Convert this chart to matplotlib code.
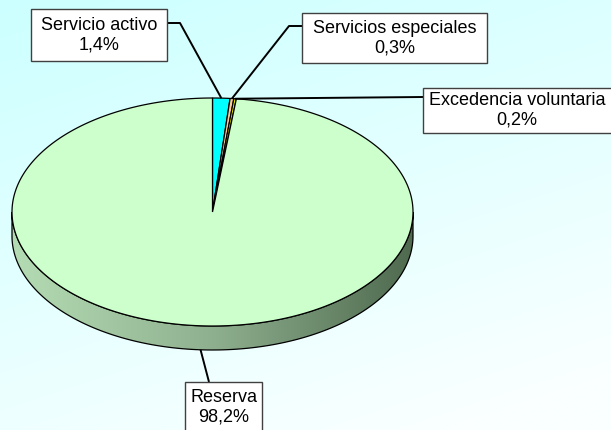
import numpy as np
import matplotlib
matplotlib.use("Agg")
import matplotlib.pyplot as plt
from matplotlib.patches import Polygon, Rectangle

# Data
categories = ["Servicio activo", "Servicios especiales", "Excedencia voluntaria", "Reserva"]
values = [1.4, 0.3, 0.2, 98.2]
labels = ["1,4%", "0,3%", "0,2%", "98,2%"]
colors = ["#00ffff", "#ffcc99", "#e6e600", "#ccffcc"]

W, H = 611, 430
plt.rcParams["font.family"] = ["Liberation Sans", "DejaVu Sans"]

fig = plt.figure(figsize=(W / 100, H / 100), dpi=100)
ax = fig.add_axes([0, 0, 1, 1])
ax.set_xlim(0, W)
ax.set_ylim(H, 0)
ax.axis("off")

# Background gradient (light cyan to near white)
yy, xx = np.mgrid[0:1:200j, 0:1:200j]
t = np.clip(0.75 * yy + 0.35 * xx, 0, 1)
c0 = np.array([204, 255, 255]) / 255
c1 = np.array([250, 255, 255]) / 255
bg = c0 + (c1 - c0) * t[..., None]
ax.imshow(bg, extent=(0, W, H, 0), aspect="auto", zorder=0)

# Pie geometry (ellipse in pixel coords)
cx, cy, rx, ry, depth = 212.5, 212, 200.5, 114, 24


def pt(f, dz=0):
    a = 2 * np.pi * f
    return cx + rx * np.sin(a), cy - ry * np.cos(a) + dz


total = sum(values)
fracs = np.cumsum([0] + values) / total

# Side wall (front half), gradient light-to-dark green
f_side = np.linspace(0.25, 0.75, 200)
top = np.array([pt(f) for f in f_side])
bot = np.array([pt(f, depth) for f in f_side[::-1]])
side_xy = np.vstack([top, bot])
side = Polygon(side_xy, closed=True, facecolor="none", edgecolor="black", lw=0.9, zorder=3)
ax.add_patch(side)
grad = np.linspace(0, 1, 256)[None, :]
side_cmap = matplotlib.colors.LinearSegmentedColormap.from_list(
    "side", ["#b4dcb4", "#8fb08f", "#4f6a4f"]
)
im = ax.imshow(grad, extent=(cx - rx, cx + rx, cy + ry + depth, cy), aspect="auto",
               cmap=side_cmap, zorder=2)
im.set_clip_path(side)

# Top face slices
for i, col in enumerate(colors):
    fs = np.linspace(fracs[i], fracs[i + 1], max(3, int(400 * (fracs[i + 1] - fracs[i]))))
    arc = np.array([pt(f) for f in fs])
    poly = np.vstack([[cx, cy], arc])
    ax.add_patch(Polygon(poly, closed=True, facecolor=col, edgecolor="black", lw=0.9, zorder=4))

# Label boxes and leader lines
boxes = [
    (31, 9, 136, 52),
    (302, 13, 185, 50),
    (423, 88, 200, 45),
    (185, 382, 77, 55),
]
text_pos = [(99, 35), (394.5, 38), (517, 110.5), (223.5, 407)]
elbows = [
    [(167, 23), (180, 23)],
    [(302, 26), (289, 26)],
    [(423, 97)],
    [(209, 382)],
]
for i, (name, lab) in enumerate(zip(categories, labels)):
    bx, by, bw, bh = boxes[i]
    mid = (fracs[i] + fracs[i + 1]) / 2
    if i == 3:
        anchor = pt(mid, depth)
    else:
        anchor = pt(mid)
    path = elbows[i] + [anchor]
    xs, ys = zip(*path)
    ax.plot(xs, ys, color="black", lw=1.4, zorder=5, solid_capstyle="butt")
    ax.add_patch(Rectangle((bx, by), bw, bh, facecolor="white", edgecolor="#404040",
                           lw=1.0, zorder=6))
    ax.text(*text_pos[i], f"{name}\n{lab}", ha="center", va="center", fontsize=13,
            linespacing=1.2, zorder=7)

fig.savefig("out.png", dpi=100)
